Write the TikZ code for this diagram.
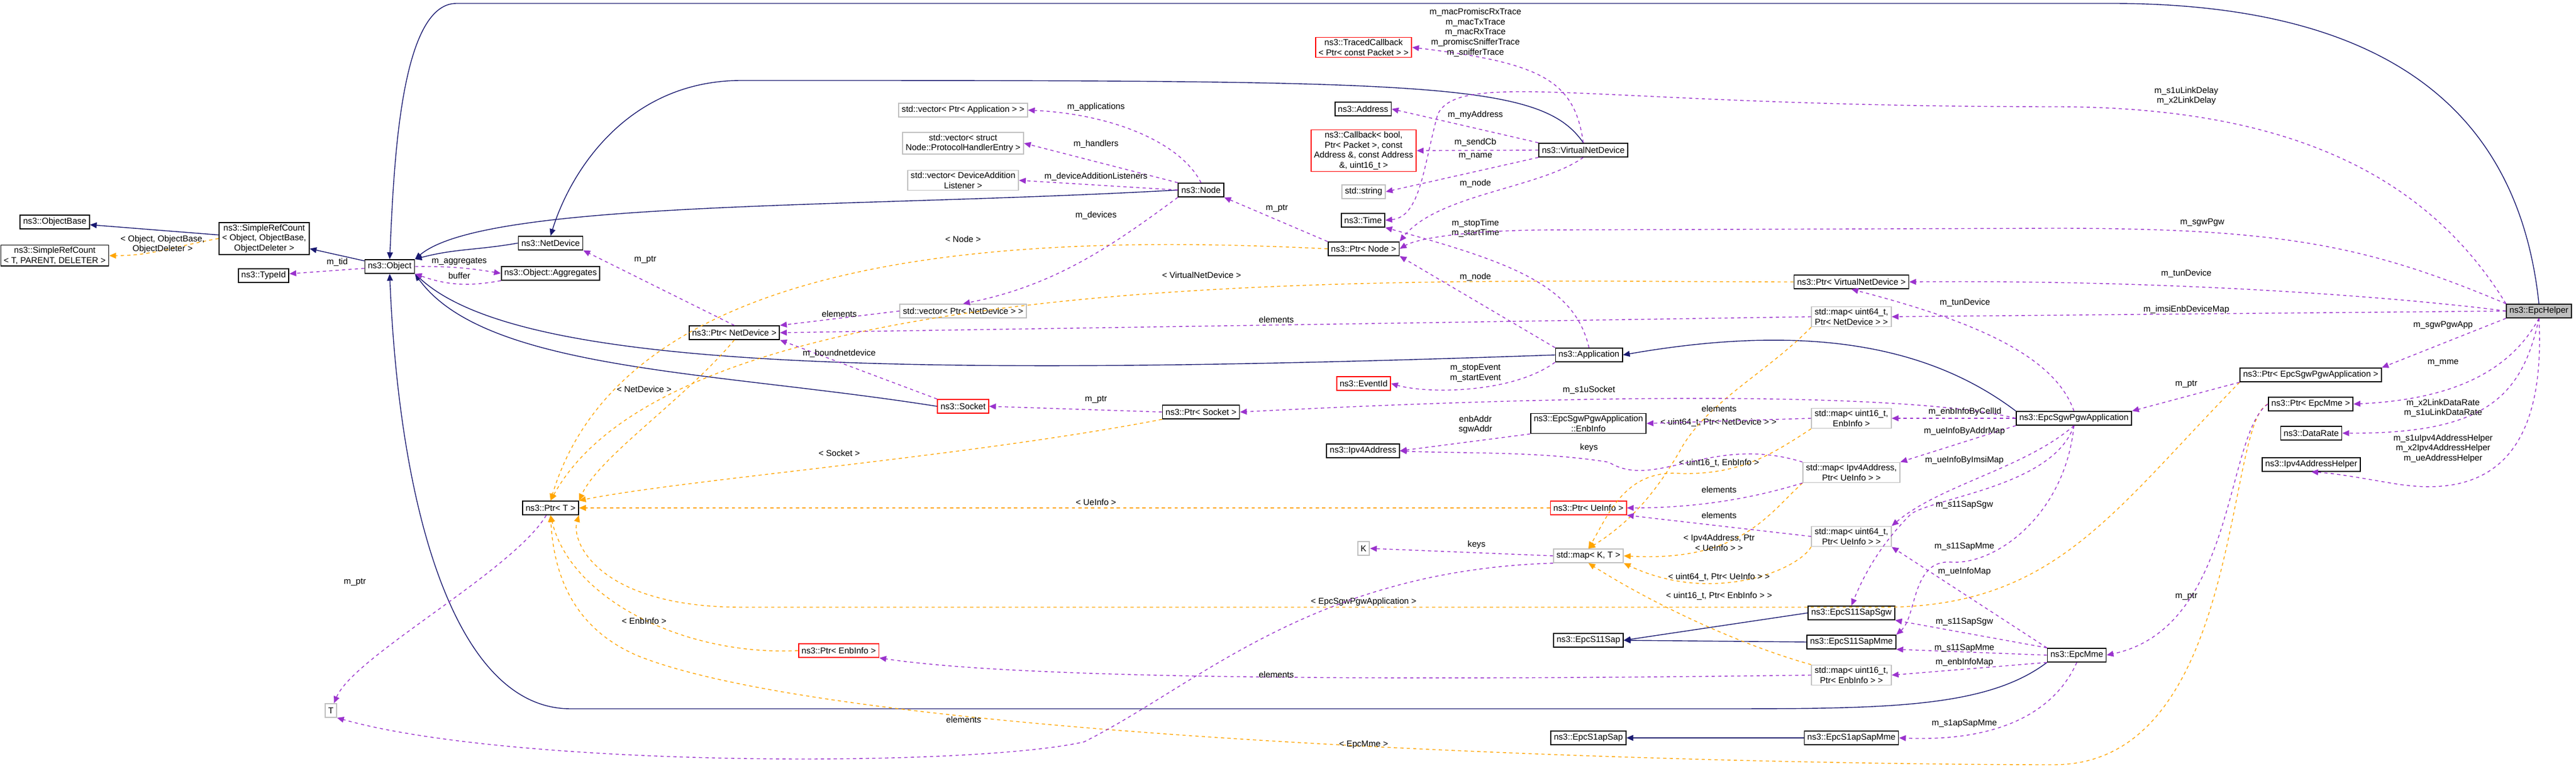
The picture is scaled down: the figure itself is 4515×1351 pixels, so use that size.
\documentclass[tikz,border=0pt]{standalone}
\usepackage{fontspec}
\setsansfont{Liberation Sans}
\usetikzlibrary{arrows.meta}
\definecolor{inhblue}{HTML}{191970}
\definecolor{usepurple}{HTML}{9A32CD}
\definecolor{tplorange}{HTML}{FFA500}
\definecolor{extgray}{HTML}{BFBFBF}
\tikzset{
    every node/.style={font=\sffamily\fontsize{4.3}{5}\selectfont},
    cls/.style={rectangle, draw=black, fill=white, line width=0.5pt, inner xsep=1.5pt, inner ysep=0.9pt, minimum height=6.8pt, align=center},
    ext/.style={cls, draw=extgray},
    bad/.style={cls, draw=red},
    helper/.style={cls, fill=extgray},
    lbl/.style={inner sep=0pt, align=center},
    inh/.style={draw=inhblue, line width=0.4pt, -{Triangle[length=3.4pt,width=2.9pt]}},
    mem/.style={draw=usepurple, line width=0.4pt, dash pattern=on 1.6pt off 1.6pt, -{Triangle[length=3.4pt,width=2.9pt,fill=usepurple]}},
    tpl/.style={draw=tplorange, line width=0.4pt, dash pattern=on 1.6pt off 1.6pt, -{Triangle[length=3.4pt,width=2.9pt,fill=tplorange]}}
}
\begin{document}
\begin{tikzpicture}[x=0.1mm, y=-0.1mm]
    \useasboundingbox (0,0) rectangle (4515,1351);

    % base classes on the left
    \node[cls] (objbase) at (96,389) {ns3::ObjectBase};
    \node[cls] (srcT) at (96,448) {ns3::SimpleRefCount\\< T, PARENT, DELETER >};
    \node[cls] (srcObj) at (463,418) {ns3::SimpleRefCount\\< Object, ObjectBase,\\ ObjectDeleter >};
    \node[cls] (typeid) at (462,483) {ns3::TypeId};
    \node[cls] (object) at (683,467) {ns3::Object};
    \node[cls] (netdev) at (965,426) {ns3::NetDevice};
    \node[cls] (aggr) at (965,479) {ns3::Object::Aggregates};
    \node[cls] (ptrT) at (965,890) {ns3::Ptr< T >};
    \node[ext] (T) at (580,1245) {T};

    % node and its members
    \node[ext] (vecApp) at (1688,193) {std::vector< Ptr< Application > >};
    \node[ext] (vecHandlers) at (1688,251) {std::vector< struct\\ Node::ProtocolHandlerEntry >};
    \node[ext] (vecDAL) at (1688,316) {std::vector< DeviceAddition\\Listener >};
    \node[ext] (vecNetDev) at (1688,545) {std::vector< Ptr< NetDevice > >};
    \node[cls] (node) at (2105,333) {ns3::Node};
    \node[cls] (ptrNetDev) at (1287,583) {ns3::Ptr< NetDevice >};
    \node[bad] (socket) at (1688,712) {ns3::Socket};
    \node[cls] (ptrSocket) at (2105,722) {ns3::Ptr< Socket >};
    \node[bad] (ptrEnbInfo) at (1470,1140) {ns3::Ptr< EnbInfo >};

    % virtual net device and application
    \node[bad] (traced) at (2390,83) {ns3::TracedCallback\\< Ptr< const Packet > >};
    \node[cls] (address) at (2389,191) {ns3::Address};
    \node[bad] (callback) at (2390,264) {ns3::Callback< bool,\\ Ptr< Packet >, const\\ Address \&, const Address\\ \&, uint16\_t >};
    \node[ext] (string) at (2390,336) {std::string};
    \node[cls] (time) at (2389,386) {ns3::Time};
    \node[cls] (ptrNode) at (2390,436) {ns3::Ptr< Node >};
    \node[cls] (vnd) at (2775,263) {ns3::VirtualNetDevice};
    \node[bad] (eventid) at (2390,672) {ns3::EventId};
    \node[cls] (ipv4) at (2389,790) {ns3::Ipv4Address};
    \node[ext] (K) at (2390,961) {K};
    \node[cls] (app) at (2785,622) {ns3::Application};
    \node[cls] (enbinfo) at (2784,742) {ns3::EpcSgwPgwApplication\\::EnbInfo};
    \node[bad] (ptrUeInfo) at (2784,890) {ns3::Ptr< UeInfo >};
    \node[ext] (mapKT) at (2784,974) {std::map< K, T >};
    \node[cls] (s11sap) at (2784,1122) {ns3::EpcS11Sap};
    \node[cls] (s1apsap) at (2784,1293) {ns3::EpcS1apSap};

    % maps and saps
    \node[cls] (ptrVnd) at (3245,494) {ns3::Ptr< VirtualNetDevice >};
    \node[ext] (mapNetDev) at (3245,555) {std::map< uint64\_t,\\ Ptr< NetDevice > >};
    \node[ext] (mapEnb) at (3245,733) {std::map< uint16\_t,\\ EnbInfo >};
    \node[ext] (mapIpv4) at (3245,828) {std::map< Ipv4Address,\\ Ptr< UeInfo > >};
    \node[ext] (mapUe) at (3245,940) {std::map< uint64\_t,\\ Ptr< UeInfo > >};
    \node[cls] (s11sgw) at (3245,1074) {ns3::EpcS11SapSgw};
    \node[cls] (s11mme) at (3245,1125) {ns3::EpcS11SapMme};
    \node[ext] (mapEnbPtr) at (3245,1183) {std::map< uint16\_t,\\ Ptr< EnbInfo > >};
    \node[cls] (s1apmme) at (3245,1293) {ns3::EpcS1apSapMme};

    % epc classes
    \node[cls] (sgwpgw) at (3635,733) {ns3::EpcSgwPgwApplication};
    \node[cls] (mme) at (3640,1148) {ns3::EpcMme};
    \node[cls] (ptrSgw) at (4050,657) {ns3::Ptr< EpcSgwPgwApplication >};
    \node[cls] (ptrMme) at (4050,708) {ns3::Ptr< EpcMme >};
    \node[cls] (datarate) at (4051,759) {ns3::DataRate};
    \node[cls] (ipv4helper) at (4051,814) {ns3::Ipv4AddressHelper};
    \node[helper] (epchelper) at (4450,545) {ns3::EpcHelper};

    % inheritance
    \draw[inh] (srcObj) -- (objbase);
    \draw[inh] (object) -- (srcObj);
    \draw[inh] (netdev.west) to[out=190,in=15] (object.north east);
    \draw[inh] (node.west) .. controls (1500,365) and (850,350) .. (object.north east);
    \draw[inh] (app.west) .. controls (1500,665) and (900,640) .. (object.south east);
    \draw[inh] (socket.west) .. controls (1250,650) and (850,650) .. (object.south east);
    \draw[inh] (vnd.north) .. controls (2700,141) and (2500,141) .. (1300,141) .. controls (1100,141) and (1000,300) .. (netdev.north);
    \draw[inh] (epchelper.north) .. controls (4420,250) and (4250,6) .. (3700,6) -- (800,6) .. controls (700,6) and (690,300) .. (object.north);
    \draw[inh] (mme.south west) .. controls (3480,1242) and (3300,1242) .. (3000,1242) -- (1000,1242) .. controls (800,1242) and (700,900) .. (object.south);
    \draw[inh] (sgwpgw.north west) .. controls (3400,620) and (3200,560) .. (app.east);
    \draw[inh] (s11sgw.west) -- (s11sap.east);
    \draw[inh] (s11mme.west) -- (s11sap.east);
    \draw[inh] (s1apmme) -- (s1apsap);

    % template instances
    \draw[tpl] (srcObj.west) to[out=190,in=0] (srcT.east);
    \node[lbl] at (285,428) {< Object, ObjectBase,\\ObjectDeleter >};
    \draw[tpl] (ptrNode.west) .. controls (1800,410) and (1100,430) .. (ptrT.north);
    \node[lbl] at (1688,419) {< Node >};
    \draw[tpl] (ptrVnd.west) .. controls (2500,494) and (1200,450) .. (ptrT.north);
    \node[lbl] at (2106,482) {< VirtualNetDevice >};
    \draw[tpl] (ptrNetDev.south) .. controls (1200,700) and (1050,800) .. (ptrT.north east);
    \node[lbl] at (1129,682) {< NetDevice >};
    \draw[tpl] (ptrSocket.south west) .. controls (1700,800) and (1200,840) .. (ptrT.north east);
    \node[lbl] at (1471,794) {< Socket >};
    \draw[tpl] (ptrUeInfo.west) -- (ptrT.east);
    \node[lbl] at (1921,880) {< UeInfo >};
    \draw[tpl] (ptrSgw.south west) .. controls (3700,900) and (3600,1064) .. (3300,1064) -- (1300,1064) .. controls (1050,1064) and (1000,950) .. (ptrT.south east);
    \node[lbl] at (2390,1055) {< EpcSgwPgwApplication >};
    \draw[tpl] (ptrEnbInfo.west) .. controls (1200,1150) and (1000,1050) .. (ptrT.south);
    \node[lbl] at (1129,1088) {< EnbInfo >};
    \draw[tpl] (ptrMme.west) .. controls (3900,740) and (3930,1340) .. (3600,1340) .. controls (3000,1340) and (1500,1300) .. (1120,1150) .. controls (1000,1100) and (970,1000) .. (ptrT.south);
    \node[lbl] at (2390,1305) {< EpcMme >};
    \draw[tpl] (mapNetDev.south west) .. controls (3100,650) and (3000,700) .. (2950,780) .. controls (2900,870) and (2850,920) .. (mapKT.north);
    \node[lbl] at (3012,741) {< uint64\_t, Ptr< NetDevice > >};
    \draw[tpl] (mapEnb.south west) .. controls (3100,800) and (3050,830) .. (2950,830) .. controls (2850,820) and (2820,900) .. (mapKT.north);
    \node[lbl] at (3013,812) {< uint16\_t, EnbInfo >};
    \draw[tpl] (mapIpv4.south west) .. controls (3100,900) and (3050,985) .. (mapKT.east);
    \node[lbl] at (3013,951) {< Ipv4Address, Ptr\\< UeInfo > >};
    \draw[tpl] (mapUe.south west) .. controls (3150,1000) and (3000,1060) .. (mapKT.south east);
    \node[lbl] at (3013,1012) {< uint64\_t, Ptr< UeInfo > >};
    \draw[tpl] (mapEnbPtr.north west) .. controls (3050,1130) and (2900,1060) .. (mapKT.south);
    \node[lbl] at (3013,1045) {< uint16\_t, Ptr< EnbInfo > >};

    % members of the base classes
    \draw[mem] (object) -- (typeid);
    \node[lbl] at (591,460) {m\_tid};
    \draw[mem] (object.east) to[bend left=5] (aggr.west);
    \node[lbl] at (805,458) {m\_aggregates};
    \draw[mem] (aggr.south west) to[bend left=15] (object.south east);
    \node[lbl] at (805,483) {buffer};
    \draw[mem] (ptrT) .. controls (900,1000) and (620,1150) .. (T);
    \node[lbl] at (622,1020) {m\_ptr};

    % members of node, device, socket
    \draw[mem] (node.north) .. controls (2070,250) and (1950,200) .. (vecApp.east);
    \node[lbl] at (1921,188) {m\_applications};
    \draw[mem] (node.north west) -- (vecHandlers.east);
    \node[lbl] at (1921,253) {m\_handlers};
    \draw[mem] (node.west) -- (vecDAL.east);
    \node[lbl] at (1921,310) {m\_deviceAdditionListeners};
    \draw[mem] (node.south west) .. controls (1950,430) and (1850,500) .. (vecNetDev.north);
    \node[lbl] at (1921,378) {m\_devices};
    \draw[mem] (vecNetDev.west) -- (ptrNetDev.north east);
    \node[lbl] at (1471,550) {elements};
    \draw[mem] (mapNetDev.west) -- (ptrNetDev.east);
    \node[lbl] at (2237,560) {elements};
    \draw[mem] (ptrNetDev.north) -- (netdev.south east);
    \node[lbl] at (1131,455) {m\_ptr};
    \draw[mem] (socket.north west) -- (ptrNetDev.south east);
    \node[lbl] at (1471,620) {m\_boundnetdevice};
    \draw[mem] (ptrNode.north west) -- (node.south east);
    \node[lbl] at (2238,365) {m\_ptr};
    \draw[mem] (ptrSocket.west) -- (socket.east);
    \node[lbl] at (1921,700) {m\_ptr};

    % members of virtual net device and application
    \draw[mem] (vnd.north) .. controls (2760,140) and (2700,110) .. (traced.east);
    \node[lbl] at (2586,57) {m\_macPromiscRxTrace\\m\_macTxTrace\\m\_macRxTrace\\m\_promiscSnifferTrace\\m\_snifferTrace};
    \draw[mem] (vnd.north west) -- (address.east);
    \node[lbl] at (2586,202) {m\_myAddress};
    \draw[mem] (vnd.west) -- (callback.east);
    \node[lbl] at (2586,250) {m\_sendCb};
    \draw[mem] (vnd.south west) -- (string.east);
    \node[lbl] at (2586,274) {m\_name};
    \draw[mem] (vnd.south) .. controls (2700,330) and (2520,340) .. (ptrNode.north east);
    \node[lbl] at (2586,322) {m\_node};
    \draw[mem] (app.north west) -- (ptrNode.south east);
    \node[lbl] at (2586,486) {m\_node};
    \draw[mem] (app.north) .. controls (2760,500) and (2650,460) .. (time.south east);
    \node[lbl] at (2586,400) {m\_stopTime\\m\_startTime};
    \draw[mem] (app.south west) .. controls (2650,690) and (2500,690) .. (eventid.east);
    \node[lbl] at (2586,654) {m\_stopEvent\\m\_startEvent};

    % members of the sgw/pgw application
    \draw[mem] (sgwpgw.west) .. controls (3400,700) and (3000,680) .. (ptrSocket.east);
    \node[lbl] at (2785,684) {m\_s1uSocket};
    \draw[mem] (sgwpgw.north) .. controls (3600,620) and (3450,560) .. (ptrVnd.south);
    \node[lbl] at (3444,531) {m\_tunDevice};
    \draw[mem] (sgwpgw.west) -- (mapEnb.east);
    \node[lbl] at (3444,722) {m\_enbInfoByCellId};
    \draw[mem] (sgwpgw.south west) -- (mapIpv4.north east);
    \node[lbl] at (3443,756) {m\_ueInfoByAddrMap};
    \draw[mem] (sgwpgw.south) .. controls (3550,820) and (3400,850) .. (mapUe.north east);
    \node[lbl] at (3443,807) {m\_ueInfoByImsiMap};
    \draw[mem] (sgwpgw.south) .. controls (3600,850) and (3400,870) .. (3350,900) .. controls (3300,950) and (3270,1000) .. (s11sgw.north);
    \node[lbl] at (3443,885) {m\_s11SapSgw};
    \draw[mem] (sgwpgw.south) .. controls (3620,900) and (3500,990) .. (3420,985) .. controls (3350,980) and (3360,1080) .. (s11mme.north east);
    \node[lbl] at (3443,958) {m\_s11SapMme};
    \draw[mem] (mapEnb.west) -- (enbinfo.east);
    \node[lbl] at (3013,716) {elements};
    \draw[mem] (enbinfo.south west) -- (ipv4.east);
    \node[lbl] at (2586,744) {enbAddr\\sgwAddr};
    \draw[mem] (mapIpv4.north west) .. controls (3000,760) and (2900,860) .. (2820,810) .. controls (2700,790) and (2550,795) .. (ipv4.east);
    \node[lbl] at (2785,785) {keys};
    \draw[mem] (mapIpv4.south west) .. controls (3050,880) and (2950,890) .. (ptrUeInfo.east);
    \node[lbl] at (3013,858) {elements};
    \draw[mem] (mapUe.west) -- (ptrUeInfo.south east);
    \node[lbl] at (3013,903) {elements};
    \draw[mem] (mapKT.west) -- (K.east);
    \node[lbl] at (2588,955) {keys};
    \draw[mem] (mapKT.south west) .. controls (2300,1000) and (2100,1200) .. (1900,1300) .. controls (1700,1345) and (900,1345) .. (T.south east);
    \node[lbl] at (1689,1261) {elements};
    \draw[mem] (mapEnbPtr.west) .. controls (2500,1192) and (1800,1192) .. (ptrEnbInfo.south east);
    \node[lbl] at (2237,1182) {elements};

    % members of the mme
    \draw[mem] (mme.north west) -- (mapUe.south east);
    \node[lbl] at (3443,1002) {m\_ueInfoMap};
    \draw[mem] (mme.north west) -- (s11sgw.south east);
    \node[lbl] at (3443,1090) {m\_s11SapSgw};
    \draw[mem] (mme.west) -- (s11mme.south east);
    \node[lbl] at (3443,1136) {m\_s11SapMme};
    \draw[mem] (mme.south west) -- (mapEnbPtr.east);
    \node[lbl] at (3443,1161) {m\_enbInfoMap};
    \draw[mem] (mme.south) .. controls (3600,1250) and (3500,1300) .. (s1apmme.east);
    \node[lbl] at (3443,1268) {m\_s1apSapMme};

    % members of the epc helper
    \draw[mem] (epchelper.north west) .. controls (4250,300) and (4000,187) .. (3600,187) .. controls (2800,187) and (2560,120) .. (2520,200) .. controls (2495,290) and (2490,380) .. (time.east);
    \node[lbl] at (3832,168) {m\_s1uLinkDelay\\m\_x2LinkDelay};
    \draw[mem] (epchelper.north west) .. controls (4150,430) and (4000,400) .. (3600,400) -- (2700,403) .. controls (2550,405) and (2480,420) .. (ptrNode.east);
    \node[lbl] at (3860,390) {m\_sgwPgw};
    \draw[mem] (epchelper.west) .. controls (4200,520) and (3800,490) .. (ptrVnd.east);
    \node[lbl] at (3832,480) {m\_tunDevice};
    \draw[mem] (epchelper.west) -- (mapNetDev.east);
    \node[lbl] at (3832,543) {m\_imsiEnbDeviceMap};
    \draw[mem] (epchelper.south west) -- (ptrSgw.north east);
    \node[lbl] at (4282,570) {m\_sgwPgwApp};
    \draw[mem] (epchelper.south) .. controls (4400,650) and (4300,700) .. (ptrMme.east);
    \node[lbl] at (4282,636) {m\_mme};
    \draw[mem] (epchelper.south) .. controls (4420,700) and (4350,760) .. (datarate.east);
    \node[lbl] at (4282,715) {m\_x2LinkDataRate\\m\_s1uLinkDataRate};
    \draw[mem] (epchelper.south) .. controls (4460,750) and (4400,880) .. (4200,848) .. controls (4150,840) and (4100,830) .. (ipv4helper.south);
    \node[lbl] at (4282,786) {m\_s1uIpv4AddressHelper\\m\_x2Ipv4AddressHelper\\m\_ueAddressHelper};
    \draw[mem] (ptrSgw.south west) -- (sgwpgw.north east);
    \node[lbl] at (3832,673) {m\_ptr};
    \draw[mem] (ptrMme.west) .. controls (3900,760) and (3920,1100) .. (mme.east);
    \node[lbl] at (3832,1045) {m\_ptr};
\end{tikzpicture}
\end{document}
